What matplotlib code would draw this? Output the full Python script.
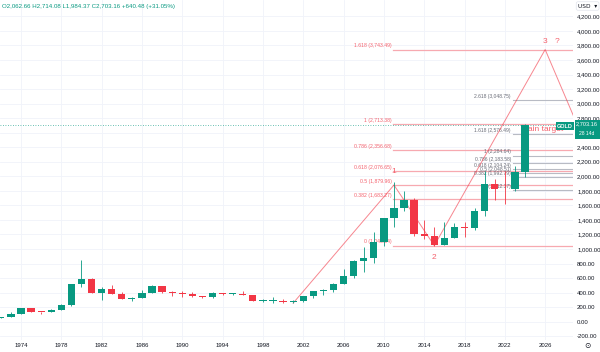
from matplotlib import pyplot as plt
from matplotlib.patches import Rectangle
import numpy as np

# yearly gold candles (USD)
years = list(range(1972, 2025))
opens = [44, 65, 112, 187, 140, 135, 165, 226, 512, 590, 400, 448, 382, 309, 327, 390, 484, 410, 401, 386,
         353, 333, 391, 383, 387, 369, 287, 288, 290, 272, 279, 347, 416, 438, 513, 632, 834, 882, 1096, 1421,
         1565, 1675, 1202, 1184, 1061, 1146, 1303, 1282, 1517, 1898, 1829, 1824, 2062.66]
highs = [70, 127, 195, 186, 140, 168, 243, 524, 850, 599, 481, 511, 406, 340, 442, 502, 487, 418, 424, 403,
         360, 406, 397, 397, 416, 367, 314, 338, 317, 293, 350, 417, 456, 538, 730, 842, 1033, 1227, 1431, 1921,
         1796, 1696, 1392, 1308, 1375, 1358, 1366, 1557, 2075, 1959, 2070, 2135, 2714.08]
lows = [44, 64, 112, 128, 103, 130, 160, 216, 474, 391, 297, 374, 307, 285, 326, 390, 395, 355, 345, 344,
        330, 326, 370, 372, 367, 283, 273, 252, 263, 255, 277, 320, 373, 411, 513, 603, 681, 801, 1044, 1308,
        1527, 1180, 1131, 1046, 1061, 1146, 1160, 1266, 1451, 1677, 1614, 1804, 1984.37]
closes = [65, 112, 187, 140, 135, 165, 226, 512, 590, 400, 448, 382, 309, 327, 390, 484, 410, 401, 386, 353,
          333, 391, 383, 387, 369, 290, 289, 290, 272, 279, 347, 416, 438, 513, 632, 834, 882, 1096, 1421, 1565,
          1675, 1202, 1184, 1061, 1146, 1303, 1282, 1517, 1898, 1829, 1824, 2062, 2703.16]

# fib retracement (left, red) and extension (right, grey)
fib1_ratios = ["1.618", "1", "0.786", "0.618", "0.5", "0.382", "0"]
fib1_levels = [3743.49, 2713.38, 2356.68, 2076.65, 1879.96, 1683.27, 1046.54]
fib2_ratios = ["2.618", "1.618", "1", "0.786", "0.618", "0.5", "0.382", "0"]
fib2_levels = [3048.75, 2576.49, 2284.64, 2183.58, 2104.24, 2048.51, 1992.79, 1812.37]

# elliott wave path
wave_x = [2001, 2011, 2015, 2026.0, 2028.9]
wave_y = [255, 1879.96, 1046.54, 3743.49, 2800]
wave_labels = ["1", "2", "3", "?"]
wave_label_x = [2011, 2015, 2026.0, 2027.2]
wave_label_y = [2060, 876, 3848, 3848]

last_price = 2703.16
header = "O2,062.66 H2,714.08 L1,984.37 C2,703.16 +640.48 (+31.05%)"

green = "#089981"
red = "#f23645"
W, H = 600, 352

fig = plt.figure(figsize=(6, 3.52), dpi=100)
ax = fig.add_axes([0, 12 / H, 573 / W, 340 / H])
ax.set_xlim(1971.92, 2028.76)
ax.set_ylim(-252, 4425)

xt = list(range(1974, 2027, 4))
yt = list(range(-200, 4201, 200))
ax.set_xticks(xt)
ax.set_xticklabels([str(x) for x in xt])
ax.set_yticks(yt)
# 2,600 sits under the price label
ax.set_yticklabels(["" if v == 2600 else f"{v:,.2f}" for v in yt])
ax.yaxis.tick_right()
ax.tick_params(axis="both", length=0, labelsize=4.3, colors="#131722")
ax.tick_params(axis="y", pad=3)
ax.tick_params(axis="x", pad=2)
for lab in ax.get_xticklabels() + ax.get_yticklabels():
    lab.set_family("Liberation Sans")
ax.grid(True, color="#f0f3fa", lw=0.6)
ax.set_axisbelow(True)
for s in ax.spines.values():
    s.set_visible(False)

# candles
o = np.array(opens); c = np.array(closes)
cols = [green if cc >= oo else red for oo, cc in zip(o, c)]
ax.vlines(years, lows, highs, colors=cols, lw=0.6, zorder=3)
bottoms = np.minimum(o, c)
heights = np.maximum(np.abs(c - o), 8)
ax.bar(years, heights, bottom=bottoms, width=0.72, color=cols, zorder=4, lw=0)

# left fib
for r, lv in zip(fib1_ratios, fib1_levels):
    ax.plot([2010.9, 2028.76], [lv, lv], color="#f7a9b0", lw=0.9, zorder=2)
    ax.annotate(f"{r} ({lv:,.2f})", (2010.75, lv), xytext=(0, 0.8), textcoords="offset points",
                ha="right", va="bottom", fontsize=3.7, color="#f4606c", family="Liberation Sans", zorder=2)

# right fib
for r, lv in zip(fib2_ratios, fib2_levels):
    ax.plot([2022.8, 2028.76], [lv, lv], color="#b8bbc4", lw=0.8, zorder=2)
    ax.annotate(f"{r} ({lv:,.2f})", (2022.6, lv), xytext=(0, 0.8), textcoords="offset points",
                ha="right", va="bottom", fontsize=3.6, color="#6a6d78", family="Liberation Sans", zorder=2)

# waves
ax.plot(wave_x, wave_y, color=red, alpha=0.6, lw=0.7, zorder=2, clip_on=True)
for t, x, y in zip(wave_labels, wave_label_x, wave_label_y):
    ax.text(x, y, t, ha="center", va="center", fontsize=6, color="#f4606c", family="Liberation Sans")

ax.text(2023.6, 2646, "Main target", ha="left", va="center", fontsize=6, color="#f4606c",
        family="Liberation Sans", zorder=1)

# last price line
ax.axhline(last_price, color=green, lw=0.6, ls=(0, (1, 2)), alpha=0.8, zorder=2)

# header
fig.text(2 / W, 1 - 6.5 / H, header, fontsize=4.4, color=green, va="center", family="Liberation Sans")

# GOLD tag and price label
fig.text(565 / W, 1 - 126 / H, "GOLD", fontsize=4, color="white", weight="bold", ha="center", va="center",
         family="Liberation Sans",
         bbox=dict(boxstyle="square,pad=0.25", fc=green, ec="none"))
fig.patches.append(Rectangle((575 / W, 1 - 138.5 / H), 25 / W, 19 / H, transform=fig.transFigure,
                             fc=green, ec="none"))
fig.text(587 / W, 1 - 123.8 / H, "2,703.16", fontsize=4.1, color="white", ha="center", va="center",
         family="Liberation Sans")
fig.text(587 / W, 1 - 133.8 / H, "28 14d", fontsize=3.6, color="white", ha="center", va="center",
         family="Liberation Sans")

# top-right currency, bottom-right icon
fig.text(578 / W, 1 - 6 / H, "USD  \u25be", fontsize=4.2, color="#131722", va="center", family="DejaVu Sans",
         bbox=dict(boxstyle="round,pad=0.3", fc="white", ec="#e0e3eb", lw=0.5))
fig.text(587 / W, 1 - 346 / H, "\u2299", fontsize=5.5, color="#131722", ha="center", va="center")

fig.savefig("out.png", dpi=100)
